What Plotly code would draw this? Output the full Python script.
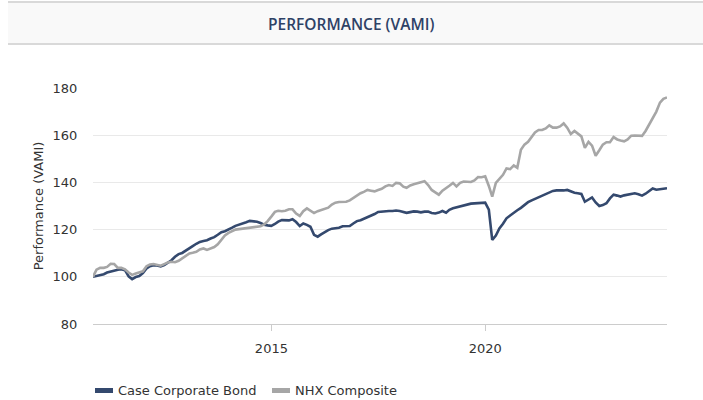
import pandas as pd
import plotly.graph_objects as go

W, H = 703, 400
L, R, T, B = 93, 36, 88, 76   # plot area edges in pixels

# month-end observations, Oct 2010 .. Mar 2024
dates = pd.date_range("2010-10-31", "2024-03-31", freq="ME")

case_corporate_bond = [
    100.0, 100.3, 100.6, 101.1, 101.8, 102.3, 102.6, 103.0, 103.2, 102.8,
    100.2, 99.0, 99.9, 100.3, 101.6, 103.5, 104.5, 104.9, 104.8, 104.4,
    105.0, 106.0, 107.0, 108.5, 109.6, 110.1, 111.0, 112.2, 113.0, 114.0,
    114.8, 115.2, 115.5, 116.2, 116.8, 117.8, 118.9, 119.3, 119.9, 120.8,
    121.6, 122.0, 122.4, 123.1, 123.7, 123.6, 123.3, 122.8, 122.1, 121.8,
    121.6, 122.4, 123.4, 124.0, 123.8, 123.9, 124.4, 123.2, 121.5, 122.6,
    122.0, 121.2, 117.8, 117.0, 118.0, 119.0, 119.8, 120.4, 120.6, 120.8,
    121.4, 121.3, 121.5, 122.6, 123.6, 124.0, 124.6, 125.2, 125.8, 126.6,
    127.5, 127.7, 127.8, 127.9, 127.9, 128.1, 127.9, 127.4, 127.1, 127.4,
    127.7, 127.6, 127.3, 127.6, 127.6, 127.0, 126.8, 127.2, 127.9, 127.2,
    128.4, 129.0, 129.4, 129.7, 130.0, 130.5, 131.0, 131.1, 131.1, 131.3,
    131.4, 128.5, 115.6, 117.5, 120.5, 122.5, 124.8, 126.0, 127.3, 128.2,
    129.2, 130.5, 131.6, 132.4, 133.0, 133.7, 134.4, 135.2, 135.9, 136.4,
    136.6, 136.5, 136.6, 136.8, 136.2, 135.6, 135.4, 135.1, 131.8, 132.8,
    133.6, 131.5, 130.0, 130.4, 131.2, 133.2, 134.8, 134.4, 134.0, 134.5,
    134.7, 135.0, 135.4, 135.0, 134.4, 135.2, 136.4, 137.4, 136.9, 137.0,
    137.2, 137.5,
]

nhx_composite = [
    100.0, 103.0, 103.8, 103.8, 104.2, 105.5, 105.4, 103.8, 103.8, 103.2,
    101.8, 100.8, 101.4, 101.9, 102.3, 104.5, 105.2, 105.4, 105.0, 104.7,
    105.4, 106.1, 106.4, 106.2, 106.8, 107.9, 108.9, 109.9, 110.2, 110.6,
    111.6, 112.0, 111.4, 112.0, 112.6, 113.8, 115.8, 117.5, 118.6, 119.5,
    120.0, 120.2, 120.4, 120.6, 120.8, 121.0, 121.1, 121.4, 122.2, 123.6,
    125.5, 127.5, 128.0, 127.8, 128.0, 128.6, 128.6, 126.8, 125.8, 127.8,
    129.0, 128.0, 127.0, 127.8, 128.3, 128.8, 129.3, 130.6, 131.4, 131.7,
    131.8, 131.8, 132.4, 133.4, 134.4, 135.4, 136.0, 136.8, 136.5, 136.2,
    136.8, 137.3, 138.3, 138.9, 138.5, 139.8, 139.6, 138.2, 137.7, 138.7,
    139.2, 139.6, 140.1, 140.5, 138.9, 136.8, 135.8, 134.8, 136.5, 137.8,
    138.6, 139.8, 138.3, 139.8, 140.4, 140.3, 140.2, 140.8, 142.3, 142.2,
    142.6, 138.5, 134.0, 139.8, 141.6, 143.2, 145.9, 145.6, 147.2, 146.2,
    153.8, 156.0, 157.2, 159.2, 161.2, 162.2, 162.2, 162.9, 164.2, 163.2,
    163.2, 163.7, 165.0, 163.2, 160.5, 161.8, 160.8, 159.5, 154.6, 157.2,
    155.6, 151.3, 153.6, 156.0, 157.0, 157.0, 159.2, 158.2, 157.8, 157.4,
    158.2, 159.8, 159.9, 159.8, 159.7, 161.8, 164.5, 167.0, 170.0, 173.8,
    175.4, 176.0,
]

series_names = ["Case Corporate Bond", "NHX Composite"]
series_colors = ["#34496e", "#a6a6a6"]
y_ticks = [80, 100, 120, 140, 160, 180]

TEXT_FONT = dict(family="DejaVu Sans, Verdana, sans-serif", size=13, color="#333333")

PW, PH = W - L - R, H - T - B


# pixel -> paper coordinates (paper is the plot area)
def px(x):
    return (x - L) / PW


def py(y):
    return (H - B - y) / PH


fig = go.Figure()
for name, vals, col in zip(series_names, [case_corporate_bond, nhx_composite], series_colors):
    fig.add_trace(go.Scatter(x=dates, y=vals, name=name, mode="lines",
                             line=dict(color=col, width=2.6), showlegend=False))

shapes = [
    # title strip
    dict(type="rect", xref="paper", yref="paper", x0=px(8), x1=px(W), y0=py(44), y1=py(2),
         fillcolor="#f9f9f9", line_width=0, layer="below"),
    dict(type="line", xref="paper", yref="paper", x0=px(8), x1=px(W), y0=py(2), y1=py(2),
         line=dict(color="#d9d9d9", width=2)),
    dict(type="line", xref="paper", yref="paper", x0=px(8), x1=px(W), y0=py(44), y1=py(44),
         line=dict(color="#d9d9d9", width=2)),
]

annotations = [
    dict(text="PERFORMANCE (VAMI)", xref="paper", yref="paper", x=px(351), y=py(24),
         showarrow=False, xanchor="center", yanchor="middle",
         font=dict(family="Open Sans, sans-serif", size=15.5, color="#2e4266", weight=600)),
]

# hand-drawn legend at the bottom
legend_x = [95, 272]
for lx, name, col in zip(legend_x, series_names, series_colors):
    shapes.append(dict(type="rect", xref="paper", yref="paper", x0=px(lx), x1=px(lx + 18),
                       y0=py(393), y1=py(388), fillcolor=col, line_width=0))
    annotations.append(dict(text=name, xref="paper", yref="paper", x=px(lx + 21), y=py(390.5),
                            showarrow=False, xanchor="left", yanchor="middle",
                            font=TEXT_FONT))

fig.update_layout(
    width=W, height=H,
    margin=dict(l=L, r=R, t=T, b=B, autoexpand=False),
    paper_bgcolor="white", plot_bgcolor="white",
    shapes=shapes, annotations=annotations,
    xaxis=dict(showgrid=False, showline=True, automargin=False,
               linecolor="#cccccc", linewidth=1, ticks="outside", ticklen=6,
               tickcolor="#cccccc", tickfont=TEXT_FONT, dtick="M60",
               tick0="2015-01-01", tickformat="%Y", zeroline=False,
               ticklabelstandoff=6),
    yaxis=dict(range=[80, 180], tickvals=y_ticks, automargin=False,
               showgrid=True, gridcolor="#e9e9e9", gridwidth=1, zeroline=False,
               showline=False, tickfont=TEXT_FONT, ticks="outside", ticklen=12,
               tickcolor="white",
               title=dict(text="Performance (VAMI)", font=TEXT_FONT, standoff=6)),
)

fig.write_html(
    "out.html",
    config={"displayModeBar": False},
    post_script="document.body.style.margin='0';document.body.style.overflow='hidden';",
)
